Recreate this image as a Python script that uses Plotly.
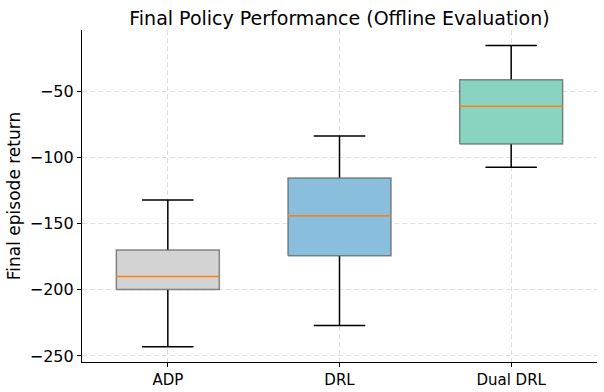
import plotly.graph_objects as go

categories = ["ADP", "DRL", "Dual DRL"]
lower_whisker = [-243.1, -227.0, -107.3]
q1_values = [-199.8, -174.2, -89.7]
median_values = [-190.0, -144.0, -61.3]
q3_values = [-169.9, -115.4, -41.2]
upper_whisker = [-132.2, -83.7, -15.3]
fill_colors = ["#d3d3d3", "#89bedc", "#89d4c0"]
y_ticks = [-250, -200, -150, -100, -50]

box_half = 0.3
cap_half = 0.15

fig = go.Figure()
for i, cat in enumerate(categories):
    x0 = i + 1
    wx = [x0, x0, None, x0, x0, None, x0 - cap_half, x0 + cap_half, None, x0 - cap_half, x0 + cap_half]
    wy = [lower_whisker[i], q1_values[i], None, q3_values[i], upper_whisker[i], None,
          lower_whisker[i], lower_whisker[i], None, upper_whisker[i], upper_whisker[i]]
    fig.add_trace(go.Scatter(x=wx, y=wy, mode="lines", line=dict(color="black", width=1.5),
                             hoverinfo="skip", showlegend=False))
    bx = [x0 - box_half, x0 + box_half, x0 + box_half, x0 - box_half, x0 - box_half]
    by = [q1_values[i], q1_values[i], q3_values[i], q3_values[i], q1_values[i]]
    fig.add_trace(go.Scatter(x=bx, y=by, mode="lines", fill="toself", fillcolor=fill_colors[i],
                             line=dict(color="rgba(90,90,90,0.7)", width=1.5),
                             name=cat, showlegend=False))
    fig.add_trace(go.Scatter(x=[x0 - box_half, x0 + box_half], y=[median_values[i]] * 2, mode="lines",
                             line=dict(color="#ff7f0e", width=1.5), hoverinfo="skip", showlegend=False))

font = "DejaVu Sans"
fig.update_layout(
    width=604, height=392,
    margin=dict(l=82, r=7, t=30, b=30, autoexpand=False),
    paper_bgcolor="white", plot_bgcolor="white",
    font=dict(family=font, size=15, color="black"),
    title=dict(text="Final Policy Performance (Offline Evaluation)", x=0.5, xanchor="center",
               xref="paper", y=1, yref="paper", yanchor="bottom", pad=dict(b=5),
               font=dict(size=19, family=font)),
    xaxis=dict(range=[0.5, 3.5], tickvals=[1, 2, 3], ticktext=categories, automargin=False,
               showgrid=True, gridcolor="rgba(0,0,0,0.12)", griddash="5px,3px", gridwidth=1,
               showline=True, linecolor="black", linewidth=1.2, zeroline=False,
               ticks="outside", ticklen=4, tickcolor="black", mirror=False),
    yaxis=dict(range=[-254.6, -3.6], tickvals=y_ticks, ticktext=["\u2212" + str(abs(v)) for v in y_ticks],
               automargin=False,
               showgrid=True, gridcolor="rgba(0,0,0,0.12)", griddash="5px,3px", gridwidth=1,
               showline=True, linecolor="black", linewidth=1.2, zeroline=False,
               ticks="outside", ticklen=4, tickcolor="black", tickfont=dict(size=16),
               title=dict(text="Final episode return", standoff=4, font=dict(size=17))),
)

fig.write_html("out.html")
